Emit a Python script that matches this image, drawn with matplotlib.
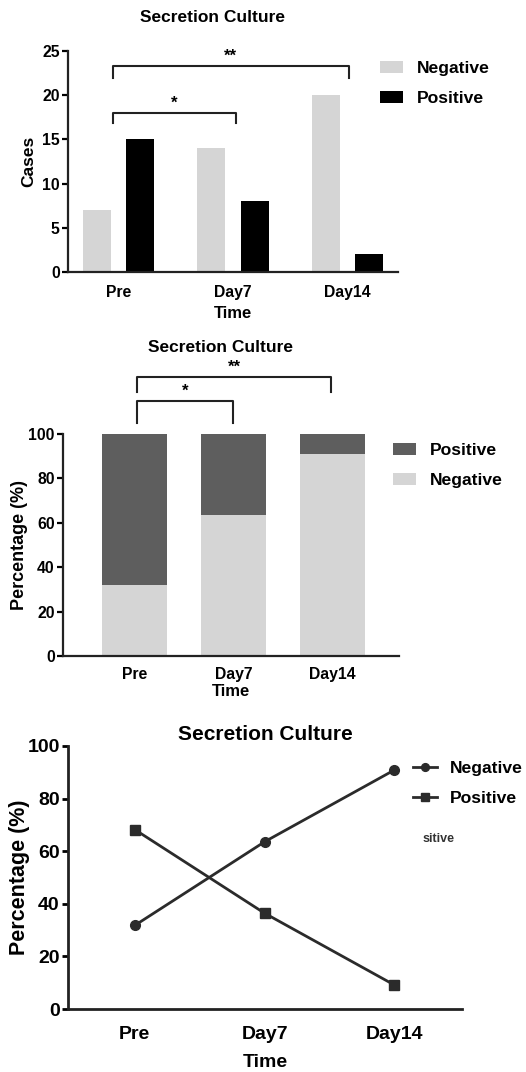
import numpy as np
import matplotlib
matplotlib.use("Agg")
import matplotlib.pyplot as plt

plt.rcParams['font.family'] = ['Liberation Sans', 'DejaVu Sans']
plt.rcParams['font.weight'] = 'bold'

# data
times = ['Pre', 'Day7', 'Day14']
neg_cases = [7, 14, 20]
pos_cases = [15, 8, 2]
neg_pct = [31.8, 63.6, 90.9]
pos_pct = [68.2, 36.4, 9.1]
case_ticks = [0, 5, 10, 15, 20, 25]
pct_ticks = [0, 20, 40, 60, 80, 100]

LIGHT = '#d5d5d5'
DARK = '#5e5e5e'
LINE = '#2b2b2b'

W, H = 526, 1072
fig = plt.figure(figsize=(W / 100, H / 100), dpi=100)


def px_axes(left, top, right, bottom):
    # axes placed by pixel box (top-left origin)
    return fig.add_axes([left / W, 1 - bottom / H, (right - left) / W, (bottom - top) / H])


def style(ax, lw=1.6, tick_fs=11.3, xpad=8):
    for s in ['top', 'right']:
        ax.spines[s].set_visible(False)
    for s in ['left', 'bottom']:
        ax.spines[s].set_linewidth(lw)
        ax.spines[s].set_color('#222222')
    ax.tick_params(axis='y', direction='out', length=4, width=lw, labelsize=tick_fs, pad=2)
    ax.tick_params(axis='x', length=0, labelsize=tick_fs, pad=xpad)
    for lab in ax.get_xticklabels() + ax.get_yticklabels():
        lab.set_fontweight('bold')


def bracket(ax, x0, x1, y, drop, label, star_dy, fs=12, lw=1.5):
    ax.plot([x0, x0, x1, x1], [y - drop, y, y, y - drop], color='#222222', lw=lw, clip_on=False)
    ax.text((x0 + x1) / 2, y + star_dy, label, ha='center', va='bottom', fontsize=fs,
            fontweight='bold', clip_on=False)


# ---- panel 1: grouped bars of cases ----
ax1 = px_axes(68, 51, 398, 272)
x = np.arange(len(times))
ax1.bar(x - 0.19, neg_cases, width=0.245, color=LIGHT, label='Negative')
ax1.bar(x + 0.19, pos_cases, width=0.245, color='#000000', label='Positive')
ax1.set_xlim(-0.44, 2.44)
ax1.set_ylim(0, 25)
ax1.set_yticks(case_ticks)
ax1.set_xticks(x)
ax1.set_xticklabels(times)
ax1.set_ylabel('Cases', fontsize=12.5, fontweight='bold', labelpad=4)
ax1.set_xlabel('Time', fontsize=12, fontweight='bold', labelpad=5)
style(ax1, xpad=9)
bracket(ax1, -0.05, 2.01, 23.3, 1.4, '**', 0.2)
bracket(ax1, -0.05, 1.03, 18.0, 1.15, '*', 0.2)
fig.text(213 / W, 1 - 17 / H, 'Secretion Culture', ha='center', va='center',
         fontsize=12.5, fontweight='bold')
ax1.legend(loc='upper left', bbox_to_anchor=(380 / W, 1 - 61 / H), bbox_transform=fig.transFigure,
           frameon=False, handlelength=1.3, handleheight=0.7, handletextpad=0.8,
           labelspacing=0.85, borderpad=0, borderaxespad=0, prop={'weight': 'bold', 'size': 12.6})

# ---- panel 2: stacked percentage bars ----
ax2 = px_axes(63, 434, 399, 656)
ax2.bar(x, neg_pct, width=0.66, color=LIGHT, label='Negative')
ax2.bar(x, pos_pct, width=0.66, bottom=neg_pct, color=DARK, label='Positive')
ax2.set_xlim(-0.72, 2.67)
ax2.set_ylim(0, 100)
ax2.set_yticks(pct_ticks)
ax2.set_xticks(x)
ax2.set_xticklabels(times)
ax2.set_ylabel('Percentage (%)', fontsize=13, fontweight='bold', labelpad=0)
ax2.set_xlabel('Time', fontsize=12, fontweight='bold', labelpad=1)
style(ax2)
bracket(ax2, 0.03, 1.0, 114.9, 10, '*', 0.8)
bracket(ax2, 0.03, 1.98, 125.8, 6.8, '**', 0.8)
fig.text(220 / W, 1 - 348 / H, 'Secretion Culture', ha='center', va='center',
         fontsize=12.5, fontweight='bold')
h, l = ax2.get_legend_handles_labels()
ax2.legend(h[::-1], l[::-1], loc='upper left', bbox_to_anchor=(393 / W, 1 - 443 / H),
           bbox_transform=fig.transFigure, frameon=False, handlelength=1.3, handleheight=0.7,
           handletextpad=0.8, labelspacing=0.85, borderpad=0, borderaxespad=0,
           prop={'weight': 'bold', 'size': 12.6})

# ---- panel 3: lines ----
ax3 = px_axes(68, 746, 462, 1009)
ax3.plot(x, neg_pct, color=LINE, lw=2, marker='o', markersize=7, label='Negative')
ax3.plot(x, pos_pct, color=LINE, lw=2, marker='s', markersize=7, label='Positive')
ax3.set_xlim(-0.515, 2.52)
ax3.set_ylim(0, 100)
ax3.set_yticks(pct_ticks)
ax3.set_xticks(x)
ax3.set_xticklabels(times)
ax3.set_ylabel('Percentage (%)', fontsize=15.5, fontweight='bold', labelpad=-2)
ax3.set_xlabel('Time', fontsize=14, fontweight='bold', labelpad=8)
style(ax3, lw=2, tick_fs=14, xpad=12)
ax3.set_title('Secretion Culture', fontsize=15, fontweight='bold', pad=4)
ax3.legend(loc='upper left', bbox_to_anchor=(413 / W, 1 - 761 / H), bbox_transform=fig.transFigure,
           frameon=False, handlelength=1.35, handletextpad=0.75, labelspacing=0.85, borderpad=0,
           borderaxespad=0, markerscale=0.8, prop={'weight': 'bold', 'size': 12.6})
fig.text(423 / W, 1 - 839 / H, 'sitive', ha='left', va='center', fontsize=9, fontweight='bold',
         color='#333333')

fig.savefig('out.png', dpi=100)
